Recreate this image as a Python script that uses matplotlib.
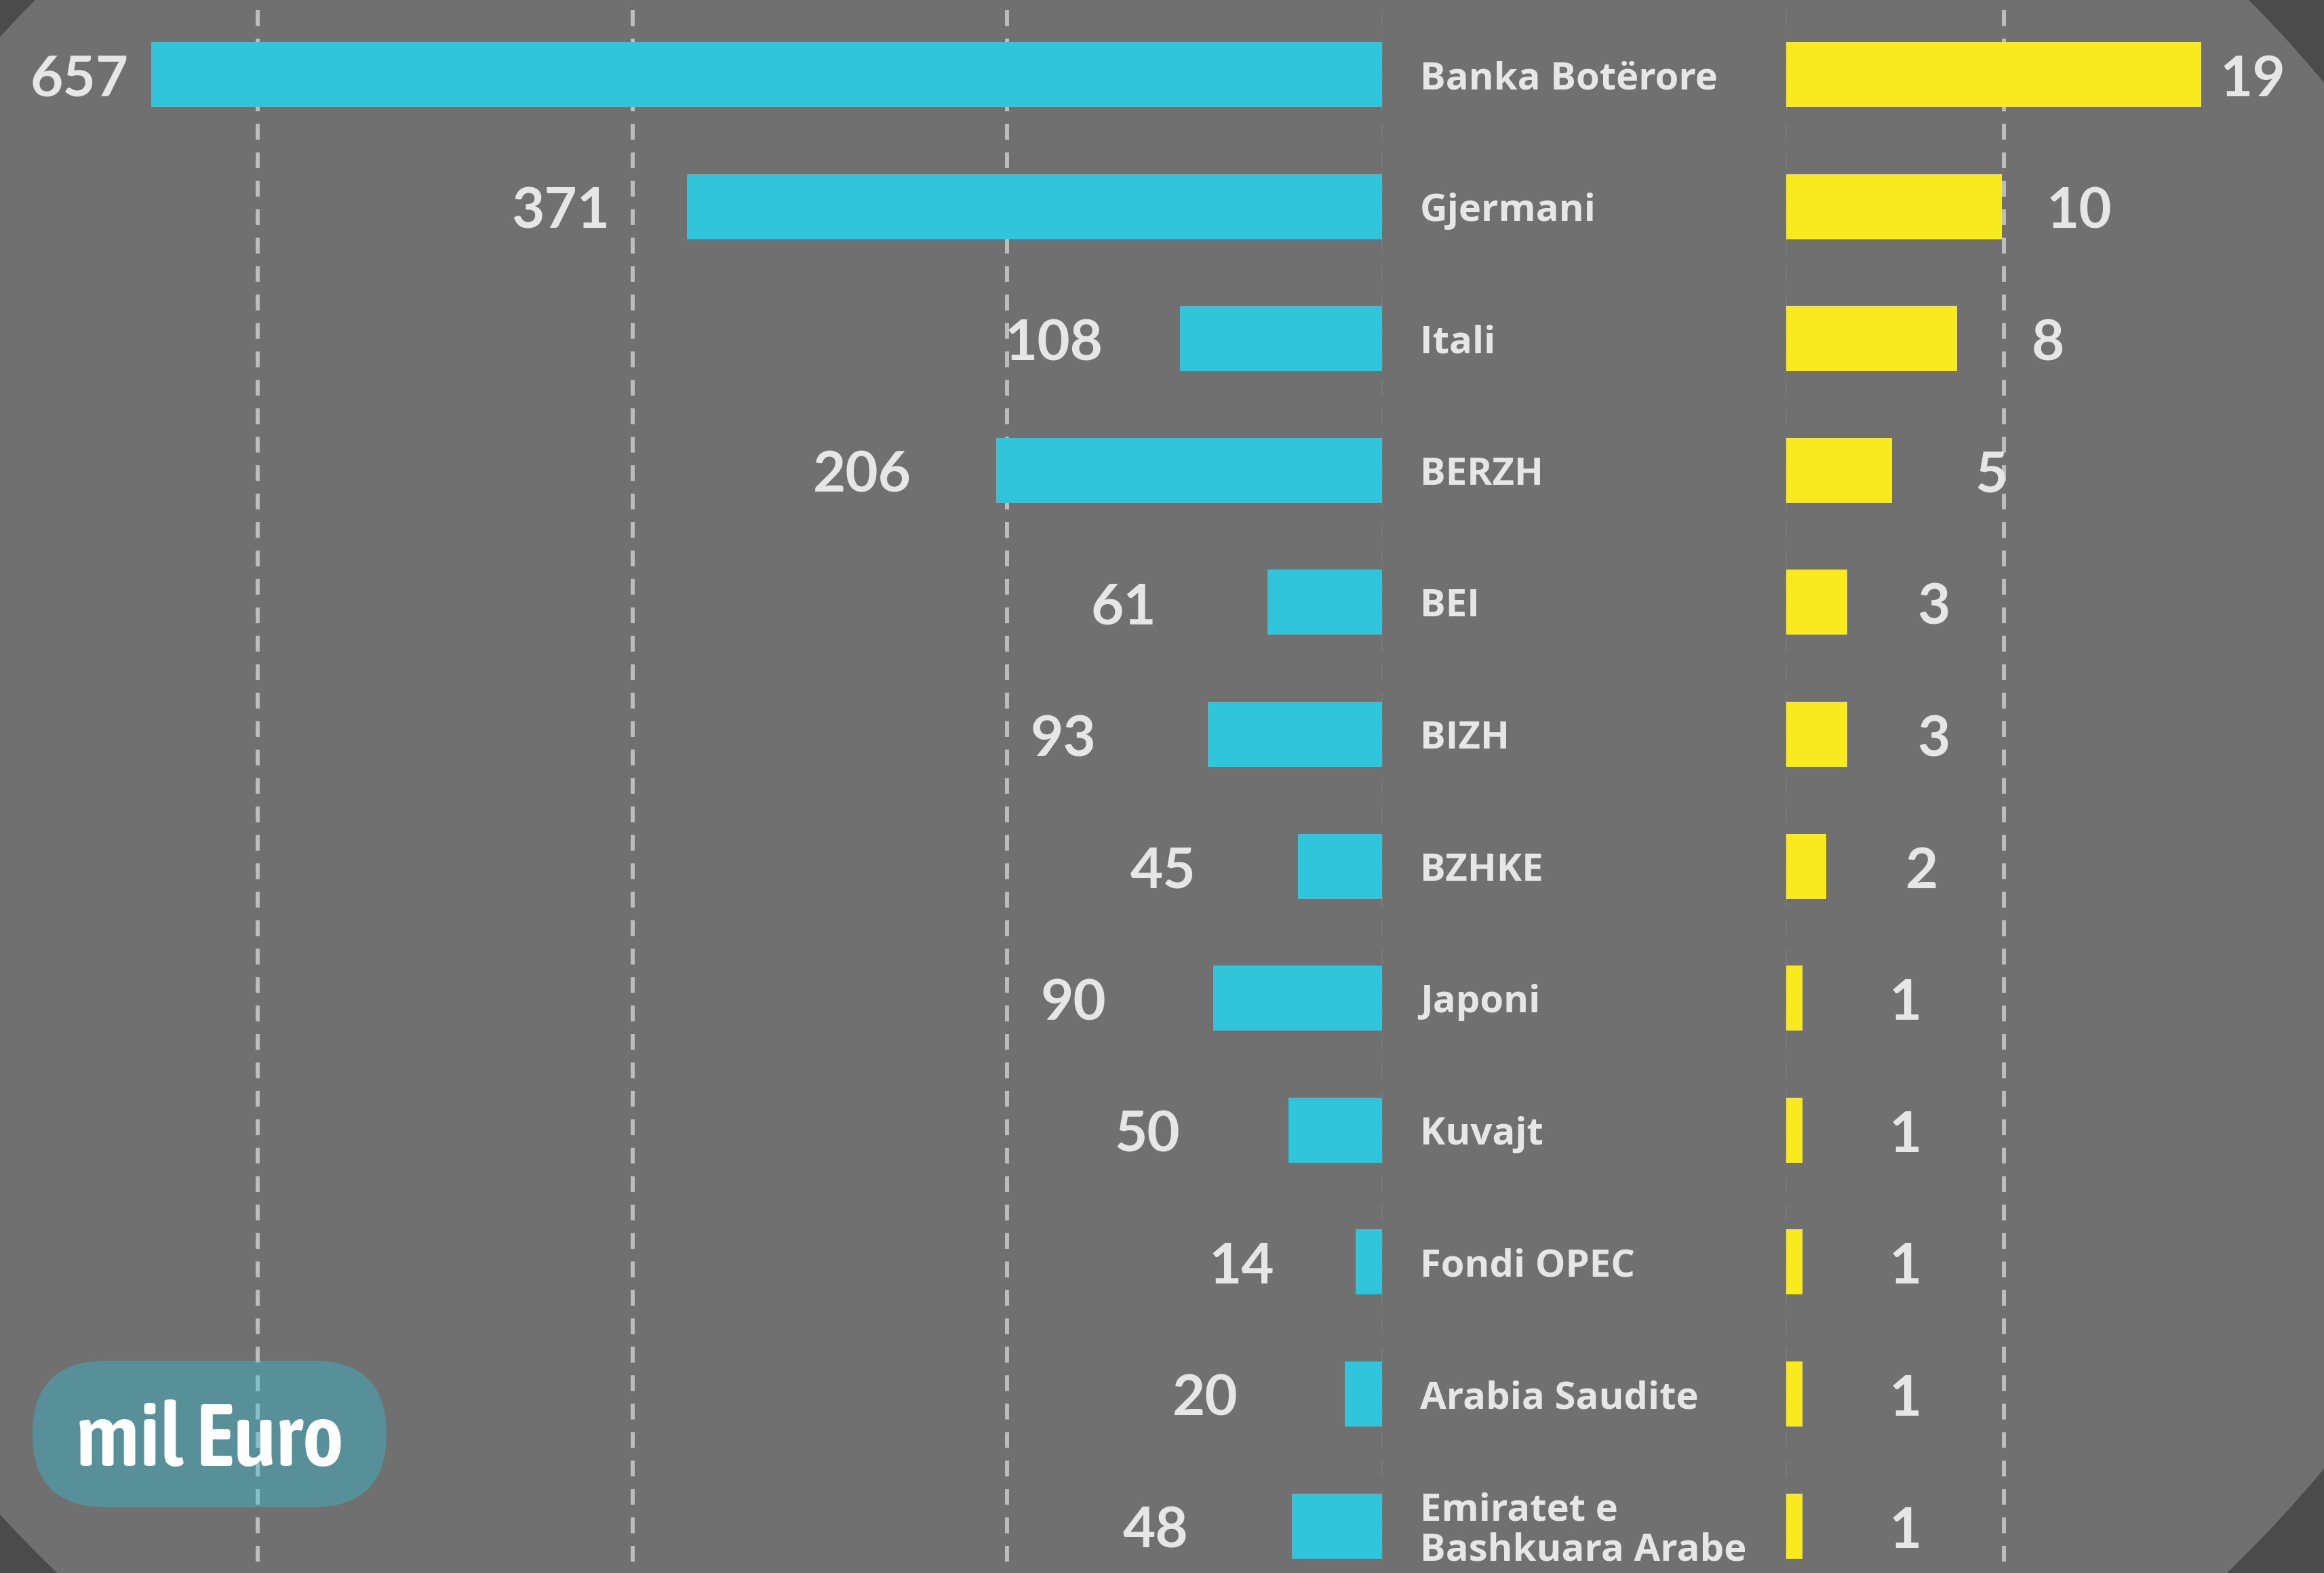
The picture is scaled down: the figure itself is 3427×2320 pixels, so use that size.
import matplotlib
matplotlib.use("Agg")
import matplotlib.pyplot as plt
from matplotlib import font_manager as fm
from matplotlib.patches import Ellipse, FancyBboxPatch

# --- data ---
donatoret = ["Banka Botërore", "Gjermani", "Itali", "BERZH", "BEI", "BIZH", "BZHKE",
             "Japoni", "Kuvajt", "Fondi OPEC", "Arabia Saudite", "Emiratet e\nBashkuara Arabe"]
vlera_mil_euro = [657, 371, 108, 206, 61, 93, 45, 90, 50, 14, 20, 48]
vlera_djathtas = [19.05, 9.9, 7.85, 4.85, 2.8, 2.8, 1.85, 0.75, 0.75, 0.75, 0.75, 0.75]
etiketa_djathtas = ["19", "10", "8", "5", "3", "3", "2", "1", "1", "1", "1", "1"]
grid_majtas = [200, 400, 600]
grid_djathtas = [10]

# --- style / layout (pixels) ---
W, H = 3427, 2320
ROW0, ROW = 110, 194.6
ZERO_L, PX_L = 2038, 2.763     # left zero and px per unit
ZERO_R, PX_R = 2634, 32.1
CYAN, YELLOW = "#31c5dc", "#f9e91f"
BG, DARK, TXT, GRID = "#707070", "#4b4b4b", "#e6e6e6", "#bdbdbd"
gap_l = [33, 114, 113, 125, 164, 165, 150, 158, 160, 120, 157, 153]
gap_r = [28, 66, 110, 123, 103, 103, 116, 128, 128, 128, 128, 128]

plt.rcParams["lines.scale_dashes"] = False
DASH = (16.8, 13.4)

fig = plt.figure(figsize=(W / 100, H / 100), dpi=100, facecolor=DARK)

# background ellipse
bg = fig.add_axes([0, 0, 1, 1], zorder=0)
bg.set_xlim(0, W)
bg.set_ylim(H, 0)
bg.axis("off")
bg.add_patch(Ellipse((1684, 1144), 4251, 3572, facecolor=BG, edgecolor="none"))

y = list(range(len(donatoret)))
y_top = -ROW0 / ROW
y_bot = (H - ROW0) / ROW
y_line = y_top + 15 / ROW

ax_l = fig.add_axes([0, 0, ZERO_L / W, 1], zorder=1)
ax_r = fig.add_axes([ZERO_R / W, 0, (W - ZERO_R) / W, 1], zorder=1)
ax_l.set_xlim(ZERO_L / PX_L, 0)
ax_r.set_xlim(0, (W - ZERO_R) / PX_R)
for ax in (ax_l, ax_r):
    ax.set_ylim(y_bot, y_top)
    ax.set_facecolor("none")
    ax.axis("off")

# gridlines
for g in grid_majtas:
    ax_l.plot([g, g], [y_line, y_bot], color=GRID, lw=4.3, dashes=DASH, zorder=1)
for g in grid_djathtas:
    ax_r.plot([g, g], [y_line, y_bot], color=GRID, lw=4.3, dashes=DASH, zorder=1)
for ax in (ax_l, ax_r):
    ax.plot([0, 0], [y_line, y_bot], color="#7b7b7b", lw=1.2, dashes=DASH, zorder=1, clip_on=False)

# bars
ax_l.barh(y, vlera_mil_euro, height=0.493, color=CYAN, zorder=3)
ax_r.barh(y, vlera_djathtas, height=0.493, color=YELLOW, zorder=3)

num_font = dict(fontsize=60, family="Lato", fontweight="bold", color=TXT)
for i, v in enumerate(vlera_mil_euro):
    ax_l.annotate(str(v), xy=(v, i), xytext=(-gap_l[i], -32), textcoords="offset pixels",
                  ha="right", va="baseline", annotation_clip=False, zorder=4, **num_font)
for i, v in enumerate(vlera_djathtas):
    ax_r.annotate(etiketa_djathtas[i], xy=(v, i), xytext=(gap_r[i], -32), textcoords="offset pixels",
                  ha="left", va="baseline", annotation_clip=False, zorder=4, **num_font)

# category names
for i, name in enumerate(donatoret):
    rreshta = name.split("\n")
    first = -21 + (len(rreshta) - 1) * 59 / 2
    for k, r in enumerate(rreshta):
        ax_l.annotate(r, xy=(0, i), xytext=(56, first - k * 59), textcoords="offset pixels",
                      ha="left", va="baseline", annotation_clip=False, zorder=4,
                      fontsize=40.5, family="Open Sans", fontweight="bold", color=TXT)


def narrow_font():
    best = None
    for f in fm.fontManager.ttflist:
        label = (f.name + " " + str(f.stretch) + " " + f.fname).lower()
        if "condensed" not in label and "narrow" not in label:
            continue
        if "italic" in label or "oblique" in label:
            continue
        w = f.weight if isinstance(f.weight, int) else fm.weight_dict.get(f.weight, 400)
        score = abs(w - 600)
        if best is None or score < best[0]:
            best = (score, f.fname)
    if best:
        return fm.FontProperties(fname=best[1])
    return fm.FontProperties(family="Roboto", weight="medium")


# "mil Euro" badge
ov = fig.add_axes([0, 0, 1, 1], zorder=5)
ov.set_xlim(0, W)
ov.set_ylim(H, 0)
ov.axis("off")
ov.add_patch(FancyBboxPatch((48, 2007), 522, 216, boxstyle="round,pad=0,rounding_size=108",
                            facecolor=CYAN, alpha=0.385, edgecolor="none"))
size = 99
badge = ov.text(309, 2115 + 0.36 * size * 100 / 72, "mil Euro", fontproperties=narrow_font(),
                fontsize=size, ha="center", va="baseline", color="white")
fig.canvas.draw()
bw = badge.get_window_extent().width
if bw > 395:
    size = size * 395 / bw
    badge.set_fontsize(size)
    badge.set_y(2115 + 0.36 * size * 100 / 72)

fig.savefig("out.png", dpi=100, facecolor=fig.get_facecolor())
